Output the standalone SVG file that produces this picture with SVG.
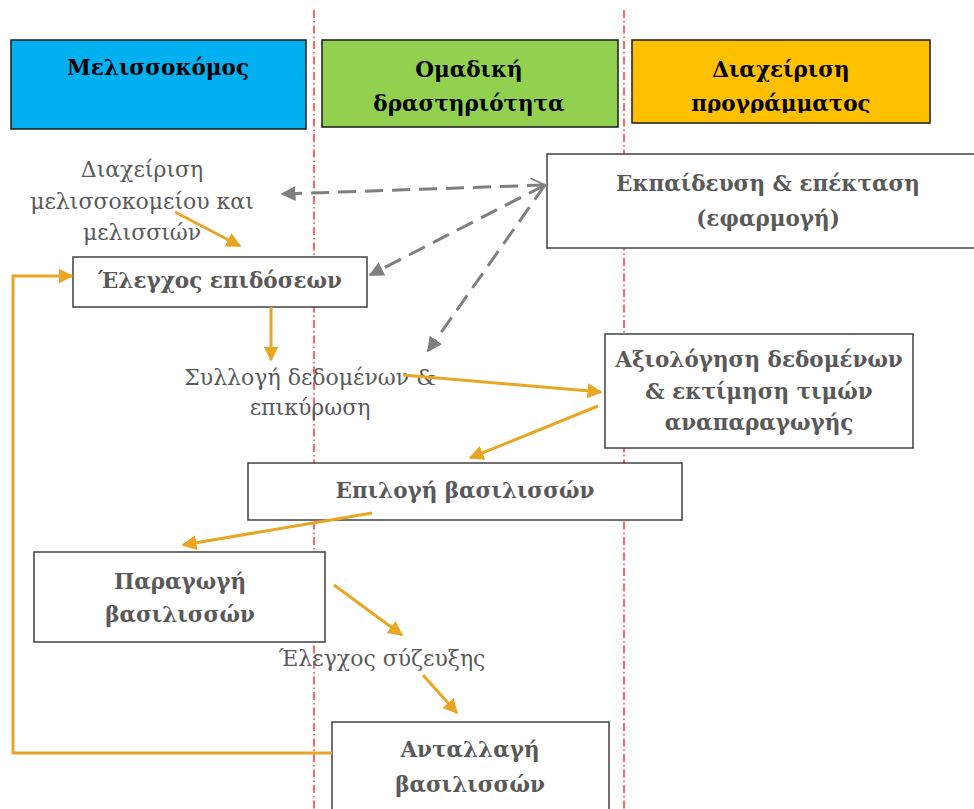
<svg xmlns="http://www.w3.org/2000/svg" width="974" height="809" viewBox="0 0 974 809">
<style>
.lane{stroke:#FF0000;stroke-width:1.2;stroke-dasharray:8 3 1.5 3;fill:none}
.hdr{stroke:#1a1a1a;stroke-width:1.5}
.htxt{font-family:"DejaVu Serif",serif;font-weight:bold;font-size:21.5px;fill:#000;text-anchor:middle}
.node rect{fill:#fff;stroke:#404040;stroke-width:1.5}
.ntxt{font-family:"DejaVu Serif",serif;font-weight:bold;font-size:21.5px;fill:#595959;text-anchor:middle}
.lbl{font-family:"DejaVu Serif",serif;font-size:22px;fill:#595959;text-anchor:middle}
.or{stroke:#E8A624;stroke-width:3;fill:none}
.gr{stroke:#7F7F7F;stroke-width:3;fill:none;stroke-dasharray:18 9}
</style>
<defs>
<marker id="ao" viewBox="0 0 10 10" refX="9" refY="5" markerWidth="5" markerHeight="5" markerUnits="strokeWidth" orient="auto"><path d="M0,0 L10,5 L0,10 Z" fill="#E8A624"/></marker>
<marker id="ag" viewBox="0 0 10 10" refX="9" refY="5" markerWidth="5" markerHeight="5" markerUnits="strokeWidth" orient="auto"><path d="M0,0 L10,5 L0,10 Z" fill="#7F7F7F"/></marker>
<marker id="agopen" viewBox="0 0 10 10" refX="9" refY="5" markerWidth="6" markerHeight="6" markerUnits="strokeWidth" orient="auto-start-reverse"><path d="M1,1 L9,5 L1,9" fill="none" stroke="#7F7F7F" stroke-width="1"/></marker>
<clipPath id="clipOr"><rect x="632" y="40" width="300" height="73"/></clipPath>
</defs>
<rect width="974" height="809" fill="#fff"/>
<g id="lanes">
<line class="lane" x1="314" y1="10" x2="314" y2="809"/>
<line class="lane" x1="624" y1="10" x2="624" y2="809"/>
</g>
<g id="hdr-beekeeper">
<rect class="hdr" x="11" y="40" width="295" height="89" fill="#00B0F0"/>
<text class="htxt" x="158" y="75">Μελισσοκόμος</text>
</g>
<g id="hdr-group">
<rect class="hdr" x="322" y="40" width="296" height="87" fill="#92D050"/>
<text class="htxt" x="469" y="77">Ομαδική</text>
<text class="htxt" x="469" y="111">δραστηριότητα</text>
</g>
<g id="hdr-program">
<rect class="hdr" x="632" y="40" width="298" height="83" fill="#FFC000"/>
<text class="htxt" x="781" y="77">Διαχείριση</text>
<text class="htxt" x="781" y="111" clip-path="url(#clipOr)">προγράμματος</text>
</g>
<g id="lbl-management">
<text class="lbl" x="142" y="177">Διαχείριση</text>
<text class="lbl" x="142" y="209">μελισσοκομείου και</text>
<text class="lbl" x="142" y="240">μελισσιών</text>
</g>
<g id="node-training" class="node">
<rect x="547" y="154" width="440" height="94"/>
<text class="ntxt" x="768" y="191">Εκπαίδευση &amp; επέκταση</text>
<text class="ntxt" x="768" y="226">(εφαρμογή)</text>
</g>
<g id="node-performance" class="node">
<rect x="73" y="257" width="294" height="50"/>
<text class="ntxt" x="220" y="288">Έλεγχος επιδόσεων</text>
</g>
<g id="lbl-collection">
<text class="lbl" x="310" y="385">Συλλογή δεδομένων &amp;</text>
<text class="lbl" x="310" y="415">επικύρωση</text>
</g>
<g id="node-evaluation" class="node">
<rect x="605" y="334" width="308" height="114"/>
<text class="ntxt" x="759" y="367">Αξιολόγηση δεδομένων</text>
<text class="ntxt" x="759" y="399">&amp; εκτίμηση τιμών</text>
<text class="ntxt" x="759" y="430">αναπαραγωγής</text>
</g>
<g id="node-selection" class="node">
<rect x="248" y="463" width="434" height="57"/>
<text class="ntxt" x="465" y="498">Επιλογή βασιλισσών</text>
</g>
<g id="node-production" class="node">
<rect x="34" y="552" width="291" height="90"/>
<text class="ntxt" x="180" y="589">Παραγωγή</text>
<text class="ntxt" x="180" y="622">βασιλισσών</text>
</g>
<g id="lbl-mating">
<text class="lbl" x="382" y="666">Έλεγχος σύζευξης</text>
</g>
<g id="node-exchange" class="node">
<rect x="332" y="722" width="277" height="100"/>
<text class="ntxt" x="470" y="757">Ανταλλαγή</text>
<text class="ntxt" x="470" y="792">βασιλισσών</text>
</g>
<g id="connectors">
<line class="gr" x1="545" y1="185" x2="282" y2="194" marker-end="url(#ag)" marker-start="url(#agopen)"/>
<line class="gr" x1="545" y1="185" x2="370" y2="275" marker-end="url(#ag)"/>
<line class="gr" x1="545" y1="185" x2="428" y2="351" marker-end="url(#ag)"/>
<line class="or" x1="175" y1="212" x2="240" y2="246" marker-end="url(#ao)"/>
<line class="or" x1="271" y1="307" x2="271" y2="360" marker-end="url(#ao)"/>
<line class="or" x1="403" y1="375" x2="601" y2="392" marker-end="url(#ao)"/>
<line class="or" x1="598" y1="406" x2="470" y2="458" marker-end="url(#ao)"/>
<line class="or" x1="372" y1="513" x2="183" y2="545" marker-end="url(#ao)"/>
<line class="or" x1="334" y1="585" x2="402" y2="635" marker-end="url(#ao)"/>
<line class="or" x1="423" y1="675" x2="457" y2="713" marker-end="url(#ao)"/>
<polyline class="or" points="332,753 13,753 13,276 72,276" marker-end="url(#ao)"/>
</g>
</svg>
